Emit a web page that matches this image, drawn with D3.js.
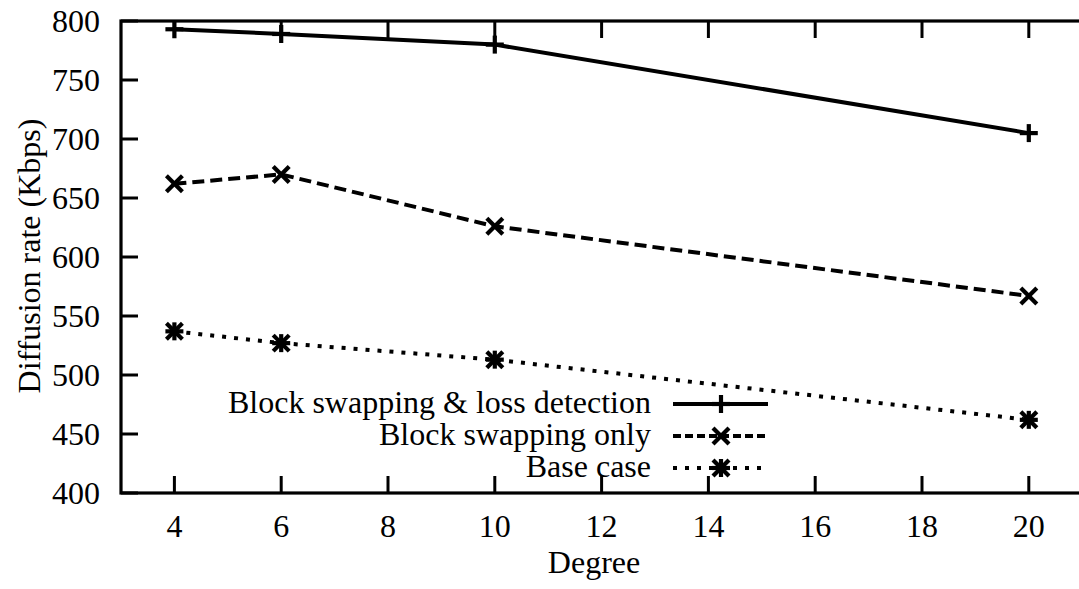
<!DOCTYPE html>
<html><head><meta charset="utf-8">
<script src="https://cdn.jsdelivr.net/npm/d3@7"></script>
<style>body{margin:0;background:#fff}text{font-family:"Liberation Serif","Times New Roman",serif;fill:#000}</style>
</head><body><svg id="c" width="1079" height="589"></svg>
<script>
const degrees = [4, 6, 10, 20];
const lossDetection = [793, 789, 780, 705];
const swappingOnly = [662, 670, 626, 567];
const baseCase = [537, 527, 513, 462];
const xTicks = [4, 6, 8, 10, 12, 14, 16, 18, 20];
const yTicks = [400, 450, 500, 550, 600, 650, 700, 750, 800];
const seriesNames = ["Block swapping & loss detection", "Block swapping only", "Base case"];

const svg = d3.select("#c");
const L = 121, T = 21, B = 493;
const x = d3.scaleLinear().domain([3, 22]).range([L, L + 53.4 * 19]);
const y = d3.scaleLinear().domain([400, 800]).range([B, T]);
const fs = 32;

svg.append("rect").attr("x", L).attr("y", T).attr("width", x(22) - L).attr("height", B - T)
  .attr("fill", "none").attr("stroke", "#000").attr("stroke-width", 3.2);

const tl = 17;
const ax = svg.append("g");
xTicks.forEach(v => {
  ax.append("line").attr("x1", x(v)).attr("x2", x(v)).attr("y1", B).attr("y2", B - tl).attr("stroke", "#000").attr("stroke-width", 3);
  ax.append("line").attr("x1", x(v)).attr("x2", x(v)).attr("y1", T).attr("y2", T + tl).attr("stroke", "#000").attr("stroke-width", 3);
  ax.append("text").attr("x", x(v)).attr("y", 537).attr("text-anchor", "middle").attr("font-size", fs).text(v);
});
yTicks.forEach(v => {
  ax.append("line").attr("x1", L).attr("x2", L + tl).attr("y1", y(v)).attr("y2", y(v)).attr("stroke", "#000").attr("stroke-width", 3);
  ax.append("text").attr("x", 100).attr("y", y(v)).attr("dy", "0.34em").attr("text-anchor", "end").attr("font-size", fs).text(v);
});
svg.append("text").attr("x", 594).attr("y", 573).attr("text-anchor", "middle").attr("font-size", fs).text("Degree");
svg.append("text").attr("transform", "translate(40,256) rotate(-90)").attr("text-anchor", "middle").attr("font-size", fs).text("Diffusion rate (Kbps)");

const series = [
  {vals: lossDetection, dash: null, ldash: null, mk: "plus"},
  {vals: swappingOnly, dash: "12,6", ldash: "8,4", mk: "cross"},
  {vals: baseCase, dash: "4,8", ldash: "4,8", mk: "star"}
];
function marker(g, cx, cy, type) {
  const s = 9, c = 8;
  const segs = [];
  if (type === "plus" || type === "star") { segs.push([-s,0,s,0],[0,-s,0,s]); }
  if (type === "cross" || type === "star") { segs.push([-c,-c,c,c],[-c,c,c,-c]); }
  segs.forEach(p => g.append("line").attr("x1", cx+p[0]).attr("y1", cy+p[1]).attr("x2", cx+p[2]).attr("y2", cy+p[3])
    .attr("stroke", "#000").attr("stroke-width", 4.2));
}
const line = d3.line().x(d => x(d[0])).y(d => y(d[1]));
series.forEach((s, i) => {
  const data = degrees.map((d, j) => [d, s.vals[j]]);
  const p = svg.append("path").datum(data).attr("d", line).attr("fill", "none").attr("stroke", "#000").attr("stroke-width", 4);
  if (s.dash) p.attr("stroke-dasharray", s.dash);
  data.forEach(d => marker(svg, x(d[0]), y(d[1]), s.mk));
  const ly = 404 + i * 32;
  svg.append("text").attr("x", 651).attr("y", ly).attr("dy", "0.29em").attr("text-anchor", "end").attr("font-size", fs).text(seriesNames[i]);
  const ll = svg.append("line").attr("x1", 673).attr("x2", 768).attr("y1", ly).attr("y2", ly).attr("stroke", "#000").attr("stroke-width", 4);
  if (s.ldash) ll.attr("stroke-dasharray", s.ldash);
  marker(svg, 721, ly, s.mk);
});
</script></body></html>
